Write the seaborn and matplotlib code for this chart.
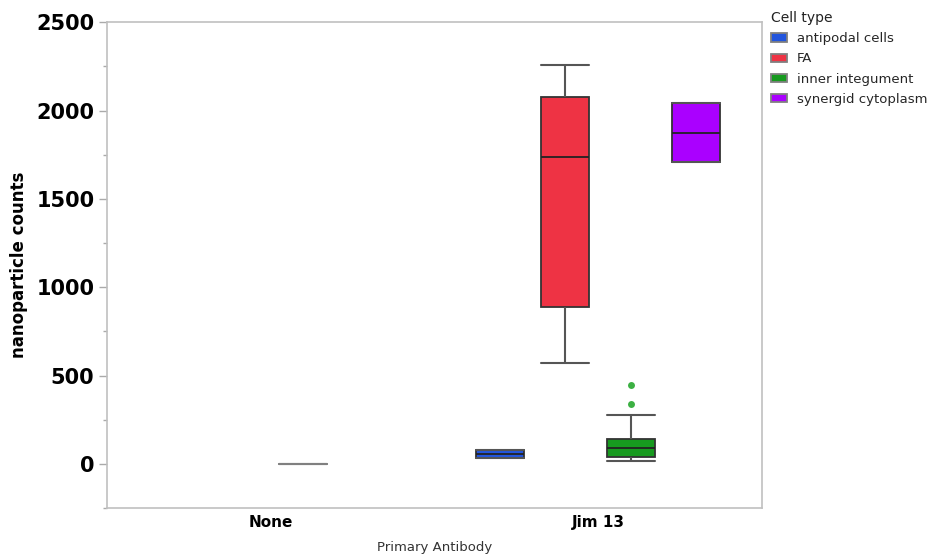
import pandas as pd
import matplotlib.pyplot as plt
from matplotlib.ticker import MultipleLocator
import seaborn as sns

# values
antibodies = ['None', 'Jim 13']
cell_types = ['antipodal cells', 'FA', 'inner integument', 'synergid cytoplasm']

none_inner_integument = [0, 0, 0, 0, 0]
jim13_antipodal = [36, 36, 58, 79, 79]
jim13_fa = [573, 890, 1739, 2077, 2260]
jim13_inner_integument = [17, 25, 33, 40, 55, 75, 92, 105, 125, 143, 280, 338, 448]
jim13_synergid = [1708, 1708, 1875, 2041, 2041]

box_colors = ['#2255dd', '#ee3344', '#179a1f', '#aa00ff']


def build_frame():
    rows = []
    groups = [
        ('None', 'inner integument', none_inner_integument),
        ('Jim 13', 'antipodal cells', jim13_antipodal),
        ('Jim 13', 'FA', jim13_fa),
        ('Jim 13', 'inner integument', jim13_inner_integument),
        ('Jim 13', 'synergid cytoplasm', jim13_synergid),
    ]
    for ab, cell, vals in groups:
        for v in vals:
            rows.append({'Primary Antibody': ab, 'Cell type': cell, 'counts': v})
    return pd.DataFrame(rows)


df = build_frame()

sns.set_style('white')
plt.rcParams['font.family'] = ['DejaVu Sans']

fig = plt.figure(figsize=(9.37, 5.56), dpi=100)
ax = fig.add_axes([0.114, 0.086, 0.699, 0.874])

sns.boxplot(data=df, x='Primary Antibody', y='counts', hue='Cell type',
            order=antibodies, hue_order=cell_types, palette=box_colors,
            saturation=1, gap=0.27, width=0.8, linecolor='#333333', linewidth=1.3,
            whiskerprops={'color': '#555555', 'linewidth': 1.5},
            capprops={'color': '#555555', 'linewidth': 1.5},
            medianprops={'color': '#222222', 'linewidth': 1.3},
            flierprops={'marker': 'o', 'markerfacecolor': '#3cb043',
                        'markeredgecolor': 'none', 'markersize': 5},
            capwidths=0.146, ax=ax)

# the all-zero group collapses to a flat grey line
for p in ax.patches:
    ext = p.get_path().get_extents(p.get_patch_transform())
    if ext.height == 0:
        p.set_edgecolor('#808080')
for ln in ax.lines:
    xd = ln.get_xdata()
    if len(xd) and max(xd) < 0.5:
        ln.set_color('#808080')

ax.set_ylim(-250, 2500)
ax.set_xlim(-0.5, 1.5)
ax.yaxis.set_major_locator(MultipleLocator(500))
ax.yaxis.set_minor_locator(MultipleLocator(250))
ax.tick_params(axis='y', which='major', length=6, width=1, color='#aaaaaa',
               labelsize=15, pad=3, left=True, labelcolor='black')
ax.tick_params(axis='y', which='minor', length=3, width=1, color='#aaaaaa', left=True)
ax.tick_params(axis='x', length=0, labelsize=11, pad=5, labelcolor='black')
for lab in ax.get_yticklabels() + ax.get_xticklabels():
    lab.set_fontweight('bold')

for sp in ax.spines.values():
    sp.set_color('#c0c0c0')
    sp.set_linewidth(1.2)

ax.set_ylabel('nanoparticle counts', fontsize=12, fontweight='bold', labelpad=6,
              color='black')
ax.set_xlabel('Primary Antibody', fontsize=9.5, color='#333333', labelpad=8)

handles, labels = ax.get_legend_handles_labels()
ax.legend_.remove()
leg = fig.legend(handles, labels, title='Cell type', loc='upper left',
                 bbox_to_anchor=(0.817, 0.99), frameon=False, fontsize=9.5,
                 title_fontsize=10, alignment='left', handlelength=1.2,
                 handleheight=0.6, labelspacing=0.55, borderaxespad=0)
leg.get_title().set_color('#222222')

plt.savefig('out.png', dpi=100)
